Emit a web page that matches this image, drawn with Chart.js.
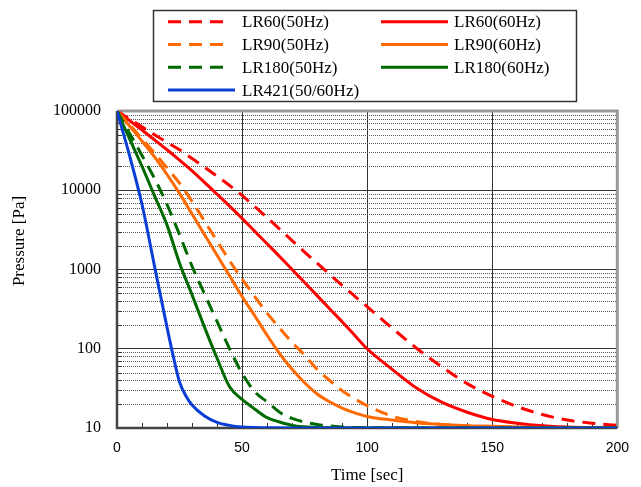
<!DOCTYPE html>
<html>
<head>
<meta charset="utf-8">
<script src="https://cdn.jsdelivr.net/npm/chart.js@4"></script>
<style>
  html, body { margin: 0; padding: 0; background: #fff; }
  #wrap { width: 641px; height: 487px; position: relative; }
</style>
</head>
<body>
<div id="wrap"><canvas id="myChart"></canvas></div>
<script>
// time axis [sec], shared by the LR60 / LR90 / LR180 curves
const timeSec = [0, 5, 10, 15, 20, 25, 30, 35, 40, 45, 50, 55, 60, 65, 70, 75, 80, 85, 90, 95, 100,
  110, 120, 130, 140, 150, 160, 170, 180, 190, 200];
// LR421 drops fast, so it gets a few more samples around its knee
const lr421Time = [0, 5, 10, 15, 20, 22.5, 25, 27.5, 30, 35, 40, 45, 50, 55, 60, 70, 80, 200];

// pressure [Pa]
const lr60_50Hz = [100000, 79400, 63100, 50100, 40300, 32400, 25100, 19500, 15000, 11500, 8610, 6240, 4520, 3240, 2320, 1660, 1200, 871, 631, 462, 339,
  182, 100, 58.9, 36.3, 25.1, 18.6, 14.8, 12.6, 11.5, 10.8];
const lr60_60Hz = [100000, 75900, 57500, 43200, 32400, 24000, 17600, 12600, 8910, 6310, 4420, 3050, 2110, 1460, 1000, 684, 468, 320, 219, 148, 100,
  55, 31.5, 21, 15.8, 12.8, 11.5, 10.7, 10.3, 10.1, 10];
const lr90_50Hz = [100000, 67600, 44700, 29500, 19100, 12300, 7240, 4070, 2290, 1290, 759, 457, 282, 182, 120, 83, 55, 39.8, 29.5, 23.4, 19.1,
  14.1, 12.0, 11.1, 10.6, 10.35, 10.2, 10.1, 10.05, 10, 10];
const lr90_60Hz = [100000, 64600, 41700, 26300, 15800, 9120, 5010, 2750, 1510, 832, 457, 263, 148, 87, 55, 37.2, 26.9, 21.4, 17.8, 15.5, 14.0,
  12.6, 11.6, 11.1, 10.7, 10.5, 10.3, 10.16, 10.1, 10.05, 10];
const lr180_50Hz = [100000, 52500, 27500, 14100, 6610, 2750, 1100, 490, 221, 100, 49, 28.8, 21.4, 15.8, 13.2, 11.9, 11.1, 10.6, 10.3, 10.14, 10.07,
  10, 10, 10, 10, 10, 10, 10, 10, 10, 10];
const lr180_60Hz = [100000, 44700, 20000, 8510, 3630, 1200, 479, 186, 75.9, 33.1, 22.9, 17.4, 13.5, 11.9, 10.8, 10.35, 10.14, 10.05, 10, 10, 10,
  10, 10, 10, 10, 10, 10, 10, 10, 10, 10];
const lr421 = [100000, 27500, 6610, 1100, 186, 80, 38, 25.5, 19.5, 14.2, 11.8, 10.8, 10.3, 10.12, 10.05, 10, 10, 10];

const yTickValues = [10, 100, 1000, 10000, 100000];
const xTickStep = 50;

const serif = '"Liberation Serif", "DejaVu Serif", serif';
const sans = '"Liberation Sans", Arial, sans-serif';

const RED = '#ff0000', ORANGE = '#ff6a00', GREEN = '#006a00', BLUE = '#0a3fd6';
const DASH = [13, 8];

function pts(values, times) {
  times = times || timeSec;
  return times.map((t, i) => ({ x: t, y: values[i] }));
}

const datasets = [
  { label: 'LR421(50/60Hz)', data: pts(lr421, lr421Time), borderColor: BLUE, borderDash: [] },
  { label: 'LR180(60Hz)', data: pts(lr180_60Hz), borderColor: GREEN, borderDash: [] },
  { label: 'LR180(50Hz)', data: pts(lr180_50Hz), borderColor: GREEN, borderDash: DASH },
  { label: 'LR90(60Hz)', data: pts(lr90_60Hz), borderColor: ORANGE, borderDash: [] },
  { label: 'LR90(50Hz)', data: pts(lr90_50Hz), borderColor: ORANGE, borderDash: DASH },
  { label: 'LR60(60Hz)', data: pts(lr60_60Hz), borderColor: RED, borderDash: [] },
  { label: 'LR60(50Hz)', data: pts(lr60_50Hz), borderColor: RED, borderDash: DASH },
];

// legend rows: [left column label, right column label]
const legendRows = [
  ['LR60(50Hz)', 'LR60(60Hz)'],
  ['LR90(50Hz)', 'LR90(60Hz)'],
  ['LR180(50Hz)', 'LR180(60Hz)'],
  ['LR421(50/60Hz)', null],
];

function isDecade(v) {
  const l = Math.log10(v);
  return Math.abs(l - Math.round(l)) < 1e-9;
}

const gridPlugin = {
  id: 'minorGrid',
  beforeDatasetsDraw(chart) {
    const { ctx, chartArea: a, scales: { x, y } } = chart;
    ctx.save();
    ctx.lineWidth = 1;
    for (let n = 1; n < 5; n++) {
      for (let k = 2; k < 10; k++) {
        const py = Math.round(y.getPixelForValue(k * Math.pow(10, n))) + 0.5;
        ctx.strokeStyle = '#555';
        ctx.setLineDash([1, 1]);
        ctx.beginPath(); ctx.moveTo(a.left, py); ctx.lineTo(a.right, py); ctx.stroke();
        ctx.setLineDash([]);
        ctx.strokeStyle = '#333';
        ctx.beginPath(); ctx.moveTo(a.left, py); ctx.lineTo(a.left + 5, py); ctx.stroke();
      }
    }
    ctx.strokeStyle = '#333';
    for (let t = 10; t < 200; t += 10) {
      const px = Math.round(x.getPixelForValue(t)) + 0.5;
      ctx.beginPath(); ctx.moveTo(px, a.bottom); ctx.lineTo(px, a.bottom - 5); ctx.stroke();
    }
    // frame
    ctx.lineWidth = 3;
    ctx.strokeStyle = '#999';
    ctx.beginPath(); ctx.moveTo(a.left, a.top); ctx.lineTo(a.right, a.top); ctx.lineTo(a.right, a.bottom); ctx.stroke();
    ctx.lineWidth = 2.5;
    ctx.strokeStyle = '#444';
    ctx.beginPath(); ctx.moveTo(a.left, a.top); ctx.lineTo(a.left, a.bottom); ctx.lineTo(a.right, a.bottom); ctx.stroke();

    // y axis title
    ctx.translate(20, 241);
    ctx.rotate(-Math.PI / 2);
    ctx.fillStyle = '#000';
    ctx.font = '17px ' + serif;
    ctx.textAlign = 'center';
    ctx.textBaseline = 'middle';
    ctx.fillText('Pressure [Pa]', 0, 0);
    ctx.restore();
  }
};

const legendPlugin = {
  id: 'boxLegend',
  afterDraw(chart) {
    const ctx = chart.ctx;
    const byLabel = {};
    chart.data.datasets.forEach(d => { byLabel[d.label] = d; });
    ctx.save();
    ctx.fillStyle = '#fff';
    ctx.fillRect(153.5, 10.5, 423, 91);
    ctx.strokeStyle = '#333';
    ctx.lineWidth = 1.5;
    ctx.strokeRect(153.5, 10.5, 423, 91);
    ctx.font = '17px ' + serif;
    ctx.textBaseline = 'middle';
    ctx.textAlign = 'left';
    const cols = [{ x0: 168, x1: 226, tx: 242 }, { x0: 381, x1: 448, tx: 454 }];
    legendRows.forEach((row, r) => {
      const ry = 21.7 + r * 22.8;
      row.forEach((label, c) => {
        if (!label) return;
        const ds = byLabel[label];
        const col = cols[c];
        const x1 = (ds.borderDash.length === 0 && c === 0) ? 235 : col.x1;
        ctx.strokeStyle = ds.borderColor;
        ctx.lineWidth = 3;
        ctx.setLineDash(ds.borderDash);
        ctx.beginPath(); ctx.moveTo(col.x0, ry); ctx.lineTo(x1, ry); ctx.stroke();
        ctx.setLineDash([]);
        ctx.fillStyle = '#000';
        ctx.fillText(label, col.tx, ry + 1);
      });
    });
    ctx.restore();
  }
};

new Chart(document.getElementById('myChart'), {
  type: 'line',
  data: { datasets },
  options: {
    responsive: true,
    maintainAspectRatio: false,
    animation: false,
    layout: { padding: { top: 111, right: 21, left: 0, bottom: 0 } },
    plugins: { legend: { display: false }, tooltip: { enabled: false } },
    elements: {
      point: { radius: 0 },
      line: { borderWidth: 3, cubicInterpolationMode: 'monotone', fill: false }
    },
    scales: {
      x: {
        type: 'linear',
        min: 0,
        max: 200,
        ticks: { stepSize: xTickStep, color: '#000', font: { family: sans, size: 14 }, padding: 12 },
        grid: {
          drawTicks: false,
          lineWidth: 1,
          color: c => (c.tick && c.tick.value > 0 && c.tick.value < 200) ? '#333' : 'rgba(0,0,0,0)'
        },
        border: { display: false },
        title: { display: true, text: 'Time [sec]', color: '#000', font: { family: serif, size: 17 }, padding: { top: 0, bottom: 1 } },
        afterFit: s => { s.height = 59; }
      },
      y: {
        type: 'logarithmic',
        min: 10,
        max: 100000,
        ticks: {
          autoSkip: false,
          color: '#000',
          font: { family: serif, size: 16 },
          padding: 16,
          callback: v => (isDecade(v) && yTickValues.includes(Math.round(v))) ? String(Math.round(v)) : null
        },
        grid: {
          drawTicks: false,
          lineWidth: 1,
          color: c => (c.tick && c.tick.value > 10 && c.tick.value < 100000) ? '#333' : 'rgba(0,0,0,0)'
        },
        border: { display: false },
        afterFit: s => { s.width = 117; }
      }
    }
  },
  plugins: [gridPlugin, legendPlugin]
});
</script>
</body>
</html>
